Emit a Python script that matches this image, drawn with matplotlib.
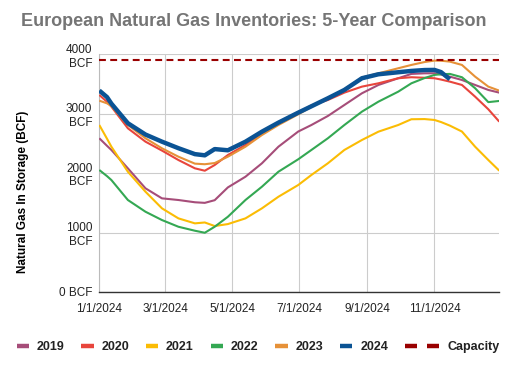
import matplotlib
matplotlib.use("Agg")
import matplotlib.pyplot as plt
from matplotlib.lines import Line2D
from matplotlib.legend_handler import HandlerBase
import numpy as np
import pandas as pd

plt.rcParams['font.family'] = ['Liberation Sans', 'DejaVu Sans']

# ---- data ----
dates = ["2024-01-01", "2024-01-08", "2024-01-12", "2024-01-27", "2024-02-12", "2024-02-27",
         "2024-03-13", "2024-03-28", "2024-04-06", "2024-04-15", "2024-04-27", "2024-05-13",
         "2024-05-28", "2024-06-12", "2024-06-30", "2024-07-12", "2024-07-27", "2024-08-11",
         "2024-08-27", "2024-09-11", "2024-09-29", "2024-10-11", "2024-10-23", "2024-11-01",
         "2024-11-07", "2024-11-15", "2024-11-26", "2024-12-08", "2024-12-20", "2024-12-30"]

y2019 = [2587, 2460, 2390, 2081, 1745, 1576, 1548, 1510, 1500, 1545, 1760, 1940, 2166, 2445, 2700,
         2810, 2962, 3147, 3344, 3484, 3597, 3670, 3680, 3681, 3660, 3624, 3568, 3484, 3400, 3355]
y2020 = [3316, 3200, 3119, 2755, 2530, 2380, 2221, 2081, 2041, 2137, 2305, 2474, 2670, 2850, 3018,
         3140, 3231, 3355, 3456, 3512, 3597, 3614, 3605, 3597, 3575, 3540, 3484, 3287, 3075, 2866]
y2021 = [2810, 2580, 2445, 2024, 1688, 1408, 1239, 1155, 1170, 1110, 1143, 1239, 1408, 1603, 1800,
         1969, 2166, 2390, 2558, 2698, 2810, 2907, 2910, 2895, 2860, 2800, 2700, 2445, 2221, 2041]
y2022 = [2053, 1950, 1884, 1548, 1351, 1211, 1098, 1031, 997, 1098, 1266, 1548, 1772, 2024, 2233,
         2390, 2587, 2810, 3035, 3203, 3371, 3512, 3600, 3653, 3665, 3670, 3614, 3429, 3195, 3215]
y2023 = [3220, 3175, 3130, 2810, 2587, 2418, 2277, 2160, 2150, 2170, 2277, 2445, 2642, 2810, 2990,
         3115, 3265, 3410, 3610, 3680, 3765, 3821, 3870, 3894, 3892, 3877, 3821, 3624, 3456, 3388]
y2024 = [3390, 3280, 3170, 2840, 2650, 2530, 2420, 2320, 2300, 2405, 2385, 2529, 2698, 2850, 3018,
         3125, 3260, 3400, 3597, 3664, 3698, 3720, 3735, 3737, 3700, 3580,
         np.nan, np.nan, np.nan, np.nan]
capacity_bcf = 3905

series_names = ["2019", "2020", "2021", "2022", "2023", "2024"]
series_values = [y2019, y2020, y2021, y2022, y2023, y2024]
series_colors = ["#a64d79", "#e8453c", "#fbbc04", "#34a853", "#e69138", "#0b5394"]
capacity_color = "#990000"

xtick_dates = ["2024-01-01", "2024-03-01", "2024-05-01", "2024-07-01", "2024-09-01", "2024-11-01"]
xtick_labels = ["1/1/2024", "3/1/2024", "5/1/2024", "7/1/2024", "9/1/2024", "11/1/2024"]
ytick_vals = [0, 1000, 2000, 3000, 4000]
ytick_labels = ["0 BCF", "1000\nBCF", "2000\nBCF", "3000\nBCF", "4000\nBCF"]

# ---- figure ----
fig = plt.figure(figsize=(5.18, 3.71), dpi=100)
ax = fig.add_axes([99.3 / 518, 1 - 292 / 371, 400 / 518, (292 - 54.3) / 371])

x = pd.to_datetime(dates)
for name, vals, col in zip(series_names, series_values, series_colors):
    lw = 3.2 if name == "2024" else 1.5
    ax.plot(x, vals, color=col, lw=lw, zorder=3 if name != "2024" else 4,
            solid_joinstyle='round', solid_capstyle='butt')
ax.axhline(capacity_bcf, color=capacity_color, lw=1.5, ls=(0, (3.3, 2.1)), zorder=5)

ax.set_xlim(pd.Timestamp("2024-01-01"), pd.Timestamp("2024-12-30"))
ax.set_ylim(0, 4000)
ax.set_xticks(pd.to_datetime(xtick_dates))
ax.set_xticklabels(xtick_labels)
ax.set_yticks(ytick_vals)
ax.set_yticklabels(ytick_labels, multialignment='right')
ax.tick_params(axis='both', length=0, labelsize=8.5, colors='#222222', pad=5)
ax.tick_params(axis='x', pad=8)
ax.grid(True, color='#cccccc', lw=0.8, zorder=0)
ax.set_axisbelow(True)
for s in ['top', 'right']:
    ax.spines[s].set_visible(False)
ax.spines['left'].set_color('#bbbbbb')
ax.spines['left'].set_linewidth(0.8)
ax.spines['bottom'].set_color('#333333')
ax.spines['bottom'].set_linewidth(1.0)

fig.text(253.5 / 518, 1 - 22 / 371, "European Natural Gas Inventories: 5-Year Comparison",
         ha='center', va='center', fontsize=13, fontweight='bold', color='#757575')
fig.text(23 / 518, 1 - 191.7 / 371, "Natural Gas In Storage (BCF)", rotation=90,
         ha='center', va='center', fontsize=8.5, fontweight='bold', color='#000000')


class DoubleDash(HandlerBase):
    def legend_artist(self, legend, orig_handle, fontsize, handlebox):
        w = handlebox.width
        h = handlebox.height
        yd = handlebox.ydescent
        handlebox.width = w * 2.8
        y = (h - yd) / 2
        seg = w
        arts = []
        for x0 in (0, w * 2.8 - seg):
            ln = Line2D([x0, x0 + seg], [y, y], color=orig_handle.get_color(),
                        lw=orig_handle.get_linewidth(), solid_capstyle='butt')
            ln.set_transform(handlebox.get_transform())
            handlebox.add_artist(ln)
            arts.append(ln)
        return arts[0]


handles = [Line2D([], [], color=c, lw=3.2, solid_capstyle='butt') for c in series_colors]
cap_handle = Line2D([], [], color=capacity_color, lw=3.2, solid_capstyle='butt')
handles.append(cap_handle)
labels = series_names + ["Capacity"]
leg = fig.legend(handles, labels, loc='center', bbox_to_anchor=(258 / 518, 1 - 347 / 371),
                 ncol=7, frameon=False, handlelength=0.98, handletextpad=0.62,
                 columnspacing=1.36, borderpad=0, borderaxespad=0,
                 prop={'weight': 'bold', 'size': 9},
                 handler_map={cap_handle: DoubleDash()})
for t in leg.get_texts():
    t.set_color('#222222')

fig.savefig("out.png", dpi=100)
